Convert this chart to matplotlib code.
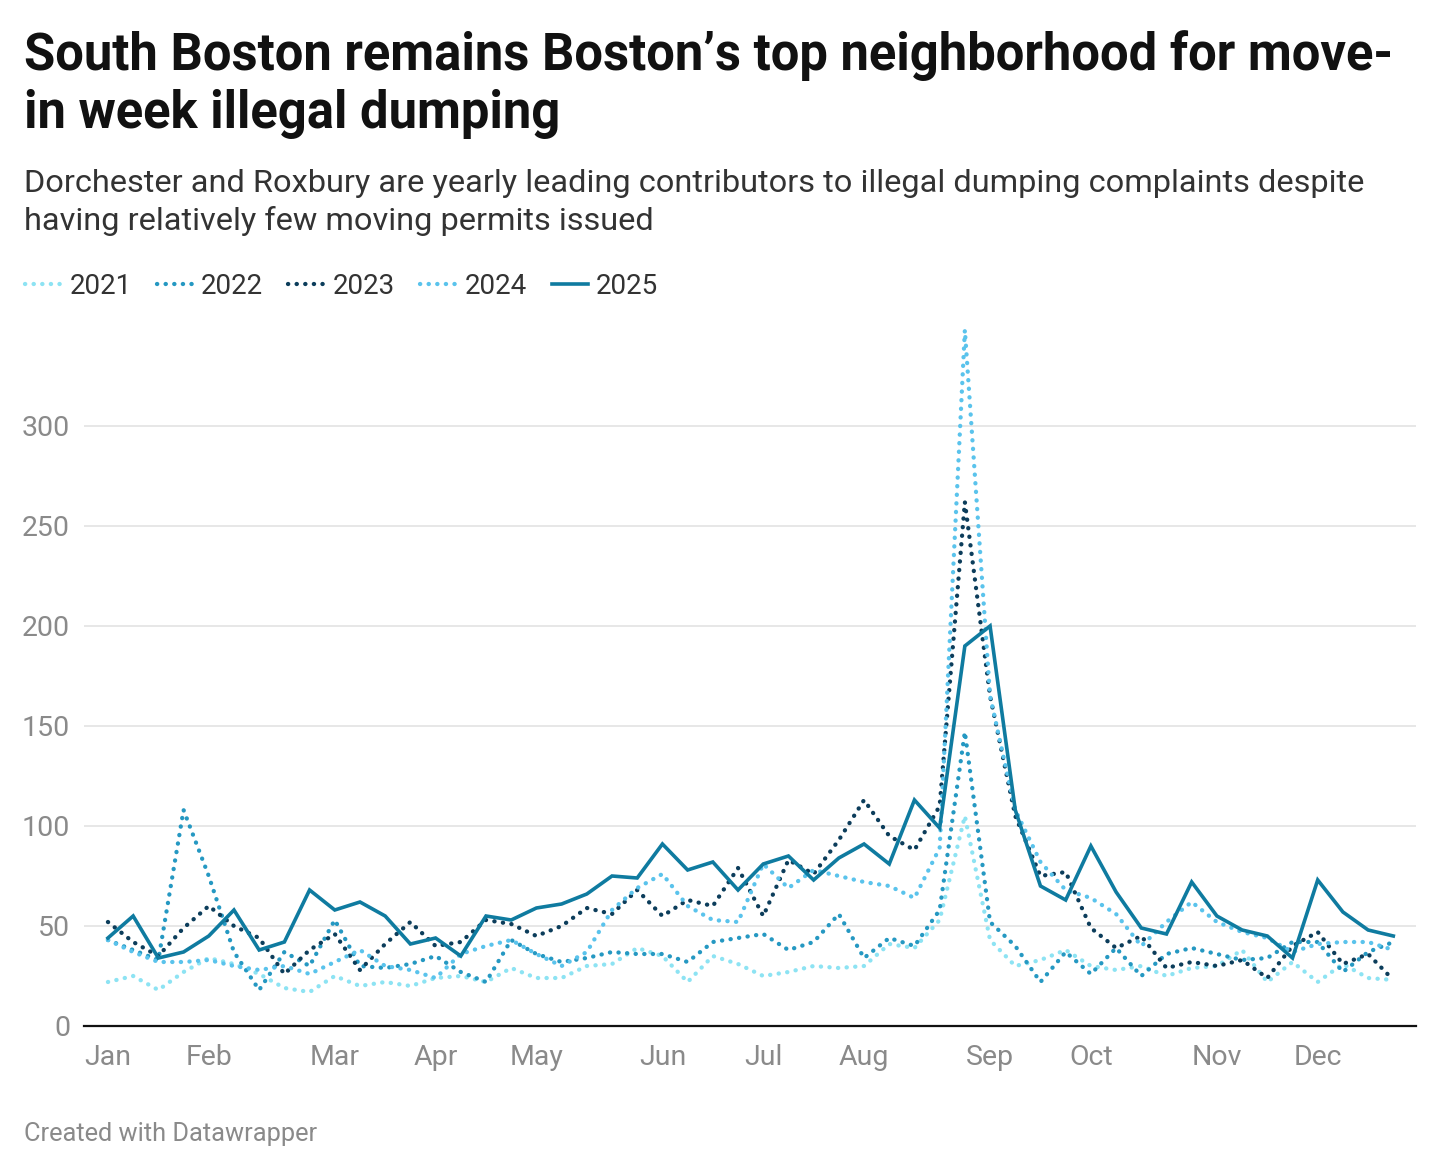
import matplotlib
matplotlib.use("Agg")
import matplotlib.pyplot as plt
import numpy as np

plt.rcParams['font.family'] = ['Roboto', 'DejaVu Sans']

# weekly illegal dumping complaints, week 0 = first week of January
weeks = np.arange(52)
month_labels = ["Jan", "Feb", "Mar", "Apr", "May", "Jun", "Jul", "Aug", "Sep", "Oct", "Nov", "Dec"]
month_weeks = [0, 4, 9, 13, 17, 22, 26, 30, 35, 39, 44, 48]

y2021 = [22, 25, 18, 27, 34, 31, 26, 19, 17, 25, 20, 22, 20, 24, 25, 22, 29, 24, 24, 30,
         31, 39, 35, 22, 35, 31, 25, 27, 30, 29, 30, 41, 39, 53, 105, 43, 30, 33, 38, 30,
         28, 30, 25, 29, 30, 38, 22, 32, 22, 31, 24, 23]
y2022 = [43, 38, 33, 108, 75, 37, 18, 37, 30, 53, 30, 29, 31, 35, 27, 22, 43, 36, 32, 34,
         37, 36, 36, 32, 42, 44, 46, 38, 42, 56, 34, 44, 40, 58, 147, 52, 40, 22, 37, 26,
         39, 25, 36, 39, 36, 33, 34, 42, 42, 27, 37, 42]
y2023 = [52, 42, 35, 49, 60, 50, 44, 26, 38, 46, 28, 41, 52, 40, 42, 53, 51, 45, 50, 59,
         56, 68, 55, 63, 60, 79, 55, 83, 76, 93, 113, 95, 88, 110, 262, 165, 105, 75, 77, 49,
         39, 45, 29, 32, 30, 33, 24, 40, 47, 31, 36, 23]
y2024 = [43, 37, 32, 32, 33, 30, 28, 30, 26, 32, 38, 30, 28, 24, 36, 40, 43, 36, 30, 37,
         58, 69, 76, 60, 53, 52, 81, 69, 78, 75, 72, 70, 64, 89, 348, 165, 108, 82, 68, 64,
         56, 40, 52, 62, 52, 47, 44, 37, 41, 42, 42, 38]
y2025 = [44, 55, 34, 37, 45, 58, 38, 42, 68, 58, 62, 55, 41, 44, 35, 55, 53, 59, 61, 66,
         75, 74, 91, 78, 82, 68, 81, 85, 73, 84, 91, 81, 113, 99, 190, 200, 108, 70, 63, 90,
         67, 49, 46, 72, 55, 48, 45, 34, 73, 57, 48, 45]

series = [("2021", y2021, "#8de3f3", "dot"),
          ("2022", y2022, "#2598c2", "dot"),
          ("2023", y2023, "#0c3d5b", "dot"),
          ("2024", y2024, "#5ac3ec", "dot"),
          ("2025", y2025, "#0f7ba0", "solid")]

fig = plt.figure(figsize=(14.4, 11.73), dpi=100)
ax = fig.add_axes([84 / 1440, 1 - 1026 / 1173, 1332 / 1440, 700 / 1173])

for name, vals, col, style in series:
    if style == "dot":
        ax.plot(weeks, vals, color=col, lw=3.1, linestyle=(0, (0.05, 1.95)),
                dash_capstyle="round", label=name, zorder=2)
    else:
        ax.plot(weeks, vals, color=col, lw=2.6, solid_joinstyle="miter", label=name, zorder=3)

ax.set_xlim(-0.95, 51.9)
ax.set_ylim(0, 350)
ax.set_yticks([0, 50, 100, 150, 200, 250, 300])
ax.set_xticks(month_weeks)
ax.set_xticklabels(month_labels)
ax.grid(axis="y", color="#e3e3e3", lw=1.2)
ax.set_axisbelow(True)
for s in ["top", "right", "left"]:
    ax.spines[s].set_visible(False)
ax.spines["bottom"].set_color("#111111")
ax.spines["bottom"].set_linewidth(1.6)
ax.tick_params(axis="both", length=0, labelsize=20.5, labelcolor="#8a8a8a")
ax.tick_params(axis="y", pad=10)
ax.tick_params(axis="x", pad=13)

fig.text(24 / 1440, 1 - 30 / 1173,
         "South Boston remains Boston\u2019s top neighborhood for move-\nin week illegal dumping",
         fontsize=36.5, fontweight="bold", color="#111111", va="top", ha="left", linespacing=1.2)
fig.text(24 / 1440, 1 - 169 / 1173,
         "Dorchester and Roxbury are yearly leading contributors to illegal dumping complaints despite\n"
         "having relatively few moving permits issued",
         fontsize=23.4, color="#333333", va="top", ha="left", linespacing=1.32)

leg = ax.legend(ncol=5, loc="center left", bbox_to_anchor=(0.0, 1 - 286 / 1173),
                bbox_transform=fig.transFigure, frameon=False, fontsize=20,
                handlelength=1.3, handletextpad=0.3, columnspacing=0.9)
for t in leg.get_texts():
    t.set_color("#333333")

fig.text(24 / 1440, 1 - 1134 / 1173, "Created with Datawrapper",
         fontsize=18.3, color="#8a8a8a", va="center", ha="left")

fig.savefig("out.png", dpi=100, facecolor="white")
